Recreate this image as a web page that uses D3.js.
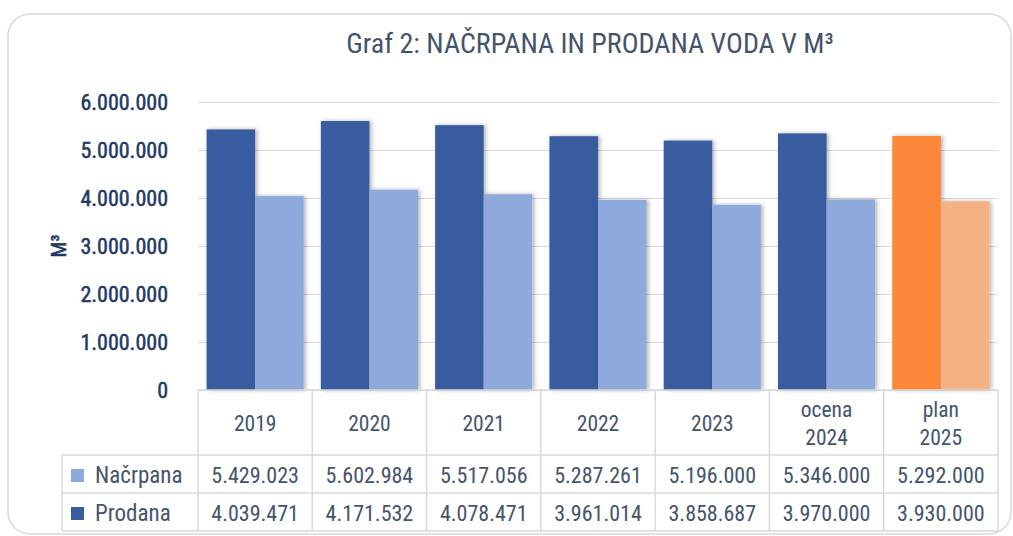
<!DOCTYPE html>
<html>
<head>
<meta charset="utf-8">
<script src="https://cdn.jsdelivr.net/npm/d3@7"></script>
<style>
  body { margin: 0; background: #fff; }
  svg text { font-family: "Roboto Condensed", "DejaVu Sans Condensed", "Liberation Sans Narrow", Roboto, sans-serif; font-stretch: condensed; }
</style>
</head>
<body>
<svg width="1013" height="536"></svg>
<script>
// podatki
const categories = ["2019", "2020", "2021", "2022", "2023", "ocena 2024", "plan 2025"];
const nacrpana = [5429023, 5602984, 5517056, 5287261, 5196000, 5346000, 5292000];
const prodana = [4039471, 4171532, 4078471, 3961014, 3858687, 3970000, 3930000];
const yTicks = [0, 1000000, 2000000, 3000000, 4000000, 5000000, 6000000];
const seriesNames = ["Načrpana", "Prodana"];

const svg = d3.select("svg");
const plotL = 198, plotR = 998, plotT = 102, plotB = 390;

const loc = d3.formatLocale({ decimal: ",", thousands: ".", grouping: [3], currency: ["", " €"] });
const fmt = loc.format(",");

// okvir
svg.append("rect")
  .attr("x", 8).attr("y", 14).attr("width", 1003).attr("height", 520)
  .attr("rx", 22)
  .attr("fill", "#fff").attr("stroke", "#d9d9d9").attr("stroke-width", 1.5);

// senca za stolpce
const defs = svg.append("defs");
defs.append("filter").attr("id", "sh").attr("x", "-20%").attr("y", "-20%").attr("width", "140%").attr("height", "140%")
  .append("feDropShadow").attr("dx", 2).attr("dy", 0).attr("stdDeviation", 2)
  .attr("flood-color", "#000").attr("flood-opacity", 0.3);

// naslov
svg.append("text")
  .attr("x", 590).attr("y", 53)
  .attr("text-anchor", "middle")
  .style("font-size", "28px")
  .style("fill", "#44546a")
  .text("Graf 2: NAČRPANA IN PRODANA VODA V M³");

const x = d3.scaleBand().domain(categories).range([plotL, plotR]).paddingInner(0.15).paddingOuter(0.075);
const xs = d3.scaleBand().domain(seriesNames).range([0, x.bandwidth()]);
const y = d3.scaleLinear().domain([0, 6000000]).range([plotB, plotT]);

// mreza
const grid = svg.append("g").attr("transform", "translate(" + plotL + ",0)")
  .call(d3.axisLeft(y).tickValues(yTicks).tickSize(-(plotR - plotL)).tickFormat(""));
grid.select(".domain").remove();
grid.selectAll("line").attr("stroke", "#d9d9d9").attr("stroke-width", 1.2);

// y os
const yAxis = svg.append("g").attr("transform", "translate(" + (plotL - 30) + ",0)")
  .call(d3.axisLeft(y).tickValues(yTicks).tickSize(0).tickPadding(0).tickFormat(fmt));
yAxis.select(".domain").remove();
yAxis.selectAll("text")
  .style("font-size", "22px").style("font-weight", "400").style("fill", "#1f3864")
  .style("stroke", "#1f3864").style("stroke-width", "0.5px")
  .attr("dy", "0.35em");

svg.append("text")
  .attr("transform", "translate(66,246)rotate(-90)")
  .attr("text-anchor", "middle")
  .style("font-size", "21px").style("fill", "#1f3864")
  .style("stroke", "#1f3864").style("stroke-width", "0.5px")
  .text("M³");

// stolpci
const colors = [
  ["#375c9f", "#375c9f", "#375c9f", "#375c9f", "#375c9f", "#375c9f", "#fb8838"],
  ["#8eaadc", "#8eaadc", "#8eaadc", "#8eaadc", "#8eaadc", "#8eaadc", "#f4b183"]
];
const values = [nacrpana, prodana];

const groups = svg.append("g").selectAll("g")
  .data(categories)
  .enter().append("g")
  .attr("transform", d => "translate(" + x(d) + ",0)");

groups.selectAll("rect")
  .data((d, i) => seriesNames.map((s, k) => ({ s: s, v: values[k][i], c: colors[k][i] })))
  .enter().append("rect")
  .attr("x", d => xs(d.s))
  .attr("y", d => y(d.v))
  .attr("width", xs.bandwidth())
  .attr("height", d => y(0) - y(d.v))
  .attr("fill", d => d.c)
  .attr("filter", "url(#sh)");

// tabela
const step = x.step();
const colEdges = d3.range(categories.length + 1).map(i => plotL + i * step);
const headBottom = 455, row1 = 493, row2 = 531, legLeft = 62;
const tbl = svg.append("g").attr("stroke", "#d9d9d9").attr("stroke-width", 1.5);

tbl.append("line").attr("x1", plotL).attr("x2", plotR).attr("y1", plotB).attr("y2", plotB);
[headBottom, row1, row2].forEach(yy => {
  tbl.append("line").attr("x1", legLeft).attr("x2", plotR).attr("y1", yy).attr("y2", yy);
});
colEdges.forEach(xx => {
  tbl.append("line").attr("x1", xx).attr("x2", xx).attr("y1", plotB).attr("y2", row2);
});
tbl.append("line").attr("x1", legLeft).attr("x2", legLeft).attr("y1", headBottom).attr("y2", row2);

// oznake kategorij
categories.forEach((c, i) => {
  const lines = c.split(" ");
  const cx = x(c) + x.bandwidth() / 2;
  const t = svg.append("text")
    .attr("x", cx)
    .attr("text-anchor", "middle")
    .style("font-size", "21.5px").style("fill", "#44546a");
  const y0 = lines.length === 1 ? 431 : 417;
  lines.forEach((l, j) => {
    t.append("tspan").attr("x", cx).attr("y", y0 + j * 28).text(l);
  });
});

// vrednosti v tabeli
const rowY = [483, 521];
const keyColors = ["#8eaadc", "#375c9f"];
seriesNames.forEach((s, k) => {
  svg.append("rect")
    .attr("x", 71).attr("y", rowY[k] - 14).attr("width", 13).attr("height", 13)
    .attr("fill", keyColors[k]);
  svg.append("text")
    .attr("x", 95).attr("y", rowY[k])
    .style("font-size", "23px").style("fill", "#44546a")
    .text(s);
  values[k].forEach((v, i) => {
    svg.append("text")
      .attr("x", x(categories[i]) + x.bandwidth() / 2)
      .attr("y", rowY[k])
      .attr("text-anchor", "middle")
      .style("font-size", "22px").style("fill", "#44546a")
      .text(fmt(v));
  });
});
</script>
</body>
</html>
